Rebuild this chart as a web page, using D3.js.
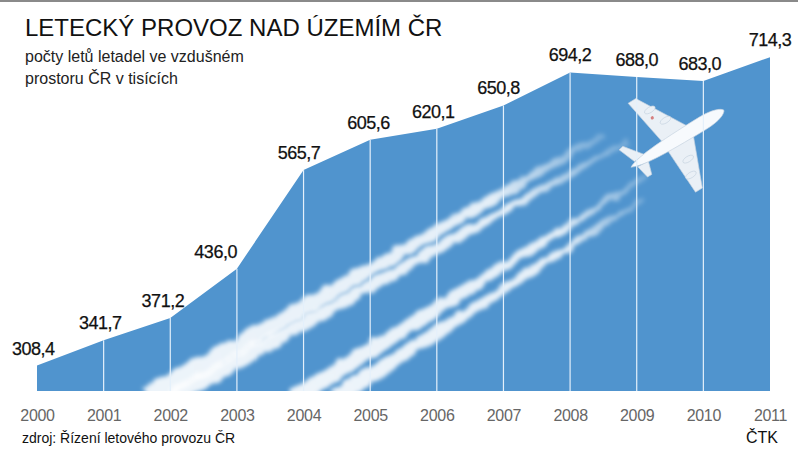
<!DOCTYPE html>
<html>
<head>
<meta charset="utf-8">
<script src="https://cdn.jsdelivr.net/npm/d3@7"></script>
<style>
  body { margin: 0; background: #fff; }
  svg text { font-family: 'Liberation Sans', Arial, sans-serif; }
  .title { font-size: 24px; fill: #111; }
  .subtitle { font-size: 16px; fill: #222; }
  .value { font-size: 18px; fill: #111; letter-spacing: -0.5px; stroke: #111; stroke-width: 0.25px; }
  .year { font-size: 16px; fill: #666; letter-spacing: -0.3px; }
  .note { font-size: 14px; fill: #111; }
</style>
</head>
<body>
<script>
  // data (flights in thousands)
  var years = [2000, 2001, 2002, 2003, 2004, 2005, 2006, 2007, 2008, 2009, 2010, 2011];
  var flights = [308.4, 341.7, 371.2, 436.0, 565.7, 605.6, 620.1, 650.8, 694.2, 688.0, 683.0, 714.3];
  var yearLabels = ["2000", "2001", "2002", "2003", "2004", "2005", "2006", "2007", "2008", "2009", "2010", "2011"];

  var W = 798, H = 450;
  var base = 391;

  var svg = d3.select("body").append("svg")
    .attr("width", W)
    .attr("height", H);

  var x = d3.scaleLinear().domain([2000, 2011]).range([37, 770]);
  var y = d3.scaleLinear().domain([275, 715]).range([base, 56.6]);

  var data = years.map((yr, i) => ({ year: yr, value: flights[i], label: yearLabels[i] }));

  // top rule
  svg.append("rect").attr("x", 0).attr("y", 0).attr("width", W).attr("height", 2).attr("fill", "#8a8a8a");

  var defs = svg.append("defs");

  var area = d3.area()
    .x(d => x(d.year))
    .y0(base)
    .y1(d => y(d.value));

  defs.append("clipPath").attr("id", "areaClip")
    .append("path").attr("d", area(data));

  // cloudy edge for the contrails
  var f = defs.append("filter").attr("id", "fluff")
    .attr("x", "-20%").attr("y", "-20%").attr("width", "140%").attr("height", "140%");
  f.append("feTurbulence").attr("type", "fractalNoise").attr("baseFrequency", 0.07)
    .attr("numOctaves", 4).attr("seed", 3).attr("result", "noise");
  f.append("feDisplacementMap").attr("in", "SourceGraphic").attr("in2", "noise")
    .attr("scale", 9).attr("xChannelSelector", "R").attr("yChannelSelector", "B").attr("result", "disp");
  f.append("feGaussianBlur").attr("in", "disp").attr("stdDeviation", 2.2);

  // sky
  svg.append("path")
    .attr("d", area(data))
    .attr("fill", "#5094ce");

  // contrails, placed in chart coordinates (year offset, value)
  var trails = [
    { x0: 1.666, v0: 266, x1: 8.524, v1: 613, w0: 22, w1: 6 },
    { x0: 2.026, v0: 266, x1: 8.869, v1: 604, w0: 17, w1: 5 },
    { x0: 3.872, v0: 266, x1: 9.154, v1: 558, w0: 18, w1: 5 },
    { x0: 4.472, v0: 266, x1: 9.109, v1: 528, w0: 17, w1: 4 }
  ];

  var trailG = svg.append("g").attr("clip-path", "url(#areaClip)");

  trails.forEach((t, i) => {
    var p0 = [x(2000 + t.x0), y(t.v0)], p1 = [x(2000 + t.x1), y(t.v1)];
    var dx = p1[0] - p0[0], dy = p1[1] - p0[1];
    var len = Math.sqrt(dx * dx + dy * dy);
    var n = [-dy / len, dx / len];
    var pts = [
      [p0[0] + n[0] * t.w0 / 2, p0[1] + n[1] * t.w0 / 2],
      [p1[0] + n[0] * t.w1 / 2, p1[1] + n[1] * t.w1 / 2],
      [p1[0] - n[0] * t.w1 / 2, p1[1] - n[1] * t.w1 / 2],
      [p0[0] - n[0] * t.w0 / 2, p0[1] - n[1] * t.w0 / 2]
    ];
    var g = defs.append("linearGradient").attr("id", "tg" + i)
      .attr("gradientUnits", "userSpaceOnUse")
      .attr("x1", p0[0]).attr("y1", p0[1]).attr("x2", p1[0]).attr("y2", p1[1]);
    g.append("stop").attr("offset", 0).attr("stop-color", "#fff").attr("stop-opacity", 0.9);
    g.append("stop").attr("offset", 0.75).attr("stop-color", "#fff").attr("stop-opacity", 0.85);
    g.append("stop").attr("offset", 1).attr("stop-color", "#fff").attr("stop-opacity", 0.2);
    trailG.append("path")
      .attr("d", "M" + pts.join("L") + "Z")
      .attr("fill", "url(#tg" + i + ")")
      .attr("filter", "url(#fluff)");
  });

  // airplane (decoration)
  var plane = svg.append("g")
    .attr("transform", "translate(677,139) rotate(-31.5)")
    .attr("fill", "#eaf0f6")
    .attr("stroke", "#c4d2e0")
    .attr("stroke-width", 0.6);
  // wings
  plane.append("path").attr("d", "M16,-5 L-14,-56 L-23,-56 L-14,-5 Z");
  plane.append("path").attr("d", "M16,5 L-4,55 L-12,55 L-14,5 Z");
  // stabilizers
  plane.append("path").attr("d", "M-36,-4 L-50,-22 L-55,-21 L-48,-3 Z");
  plane.append("path").attr("d", "M-36,4 L-40,17 L-45,17 L-48,3 Z");
  // engines
  [[0, -22], [-8, -39], [-1, 23], [-7, 38]].forEach(e => {
    plane.append("ellipse").attr("cx", e[0]).attr("cy", e[1]).attr("rx", 6).attr("ry", 2.8);
  });
  // fuselage
  plane.append("path")
    .attr("d", "M-54,0 C-44,-5 -20,-7 30,-7 C46,-7 54,-3 55,0 C54,3 46,7 30,7 C-20,7 -44,5 -54,0 Z")
    .attr("fill", "#f7fafd");
  plane.append("circle").attr("cx", -10).attr("cy", -31).attr("r", 1.6)
    .attr("fill", "#d68080").attr("stroke", "none");

  // year grid lines
  svg.selectAll(".grid")
    .data(data.slice(1, -1))
    .enter()
    .append("line")
    .attr("class", "grid")
    .attr("x1", d => x(d.year))
    .attr("x2", d => x(d.year))
    .attr("y1", d => y(d.value))
    .attr("y2", base)
    .attr("stroke", "#e4f0fb")
    .attr("stroke-width", 1.2);

  // value labels, nudged left when the next segment climbs
  var fmt = d3.format(".1f");
  function rise(i) {
    var next = data[i + 1];
    return next ? y(data[i].value) - y(next.value) : 0;
  }
  svg.selectAll(".value")
    .data(data)
    .enter()
    .append("text")
    .attr("class", "value")
    .attr("x", (d, i) => x(d.year) - (rise(i) > 60 ? 0 : Math.max(0, rise(i)) * 0.15))
    .attr("y", d => y(d.value) - 11)
    .attr("text-anchor", (d, i) => rise(i) > 60 ? "end" : "middle")
    .text(d => fmt(d.value).replace(".", ","));

  // year axis
  var axis = d3.axisBottom(x)
    .tickValues(years)
    .tickFormat((d, i) => yearLabels[i])
    .tickSize(0)
    .tickPadding(0);
  var ax = svg.append("g").attr("transform", "translate(0,409)").call(axis);
  ax.select(".domain").remove();
  ax.selectAll("text").attr("class", "year").attr("dy", "0.78em").attr("fill", null);

  // titles
  svg.append("text").attr("class", "title").attr("x", 25).attr("y", 36)
    .text("LETECKÝ PROVOZ NAD ÚZEMÍM ČR");
  svg.append("text").attr("class", "subtitle").attr("x", 25).attr("y", 62)
    .text("počty letů letadel ve vzdušném");
  svg.append("text").attr("class", "subtitle").attr("x", 25).attr("y", 84)
    .text("prostoru ČR v tisících");

  svg.append("text").attr("class", "note").attr("x", 22).attr("y", 443)
    .text("zdroj: Řízení letového provozu ČR");
  svg.append("text").attr("class", "note").attr("x", 778).attr("y", 443)
    .attr("text-anchor", "end").style("font-size", "16px")
    .text("ČTK");
</script>
</body>
</html>
